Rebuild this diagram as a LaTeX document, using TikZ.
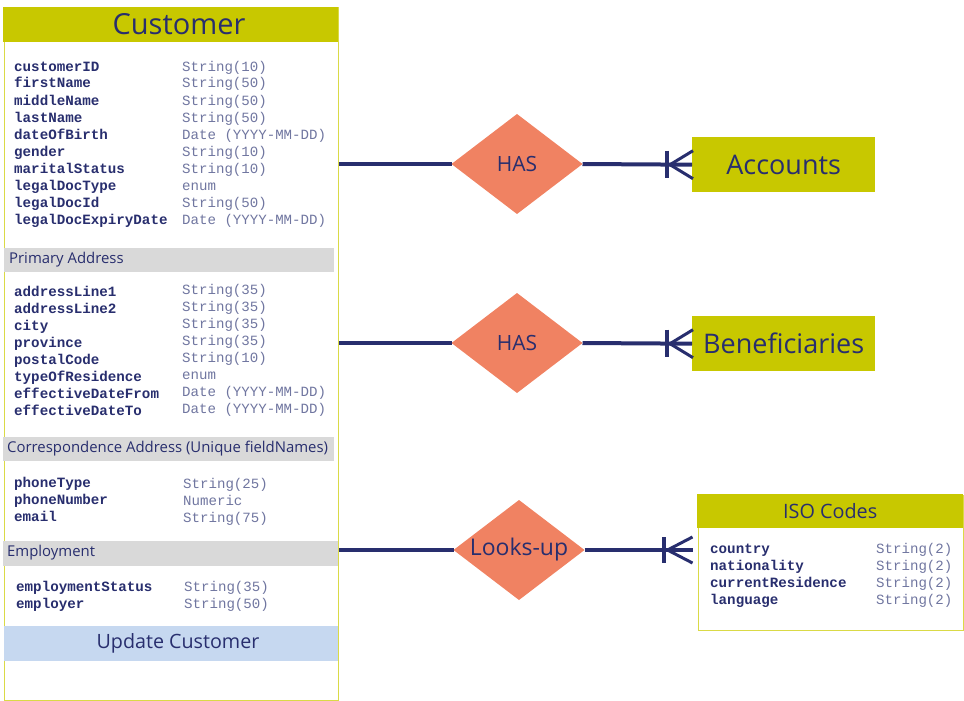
\documentclass[tikz,border=0pt]{standalone}
\usepackage{fontspec}
\setmainfont{Open Sans}
\newfontfamily\monof{Liberation Mono}
\usetikzlibrary{shapes.geometric,calc}
\definecolor{ylw}{RGB}{200,200,0}
\definecolor{ylwb}{RGB}{218,218,70}
\definecolor{navy}{RGB}{40,46,110}
\definecolor{typec}{RGB}{112,118,160}
\definecolor{band}{RGB}{217,217,217}
\definecolor{salmon}{RGB}{240,130,98}
\definecolor{bluey}{RGB}{198,216,240}
\tikzset{
  fname/.style={anchor=base west, inner sep=0, font=\monof\bfseries\fontsize{14.2}{14}\selectfont, text=navy},
  ftype/.style={anchor=base west, inner sep=0, font=\monof\fontsize{14.1}{14}\selectfont, text=typec},
  bandbox/.style={fill=band, anchor=north west, inner sep=0, minimum height=24pt},
  bandtxt/.style={anchor=west, inner sep=0, font=\fontsize{14.9}{16}\selectfont, text=navy},
  rel/.style={diamond, fill=salmon, minimum width=131pt, minimum height=100pt, inner sep=0, outer sep=0},
  reltxt/.style={inner sep=0, text=navy},
  ent/.style={fill=ylw, anchor=north west, inner sep=0, minimum width=183pt, minimum height=55pt, text=navy, font=\fontsize{27}{30}\selectfont},
  conn/.style={draw=navy, line width=4pt},
  crow/.style={draw=navy, line width=3pt},
  crowbar/.style={draw=navy, line width=4pt}
}
\begin{document}
\begin{tikzpicture}[x=1pt,y=-1pt]
\useasboundingbox (0,0) rectangle (964,701);
% Customer table
\node[draw=ylwb, line width=1.5pt, fill=white, anchor=north west, minimum width=334pt, minimum height=692pt, inner sep=0] (cust) at (3.5,7.5) {};
\node[fill=ylw, anchor=north west, minimum width=335pt, minimum height=35pt, inner sep=0] (custT) at (3,7) {};
\node[inner sep=0, font=\fontsize{29}{32}\selectfont, text=navy] (custL) at (179,24) {Customer};
\foreach \n/\t [count=\i] in {customerID/String(10), firstName/String(50), middleName/String(50), lastName/String(50), dateOfBirth/Date (YYYY-MM-DD), gender/String(10), maritalStatus/String(10), legalDocType/enum, legalDocId/String(50), legalDocExpiryDate/Date (YYYY-MM-DD)} {
  \node[fname] (cn\i) at (14,54+17*\i) {\n};
  \node[ftype] (ct\i) at (182,54+17*\i) {\t};
}
\node[bandbox, minimum width=330pt] (pab) at (4,248) {};
\node[bandtxt] (pat) at (9,260) {Primary Address};
\foreach \n/\t [count=\i] in {addressLine1/String(35), addressLine2/String(35), city/String(35), province/String(35), postalCode/String(10), typeOfResidence/enum, effectiveDateFrom/Date (YYYY-MM-DD), effectiveDateTo/Date (YYYY-MM-DD)} {
  \node[fname] (pn\i) at (14,279+17*\i) {\n};
  \node[ftype] (pt\i) at (182,277+17*\i) {\t};
}
\node[bandbox, minimum width=331pt] (cab) at (3,437) {};
\node[bandtxt] (cat) at (7,449) {Correspondence Address (Unique fieldNames)};
\foreach \n/\t [count=\i] in {phoneType/String(25), phoneNumber/Numeric, email/String(75)} {
  \node[fname] (rn\i) at (14,470+17*\i) {\n};
  \node[ftype] (rt\i) at (183,471+17*\i) {\t};
}
\node[bandbox, minimum width=335pt, minimum height=25pt] (emb) at (3,541) {};
\node[bandtxt] (emt) at (7,553) {Employment};
\foreach \n/\t [count=\i] in {employmentStatus/String(35), employer/String(50)} {
  \node[fname] (en\i) at (16,574+17*\i) {\n};
  \node[ftype] (et\i) at (184,574+17*\i) {\t};
}
\node[fill=bluey, anchor=north west, minimum width=334pt, minimum height=35pt, inner sep=0] (upd) at (4,626) {};
\node[inner sep=0, font=\fontsize{19.7}{22}\selectfont, text=navy] (updL) at (178,643.5) {Update Customer};
% Relationships
\node[rel] (has1) at (517,164) {};
\node[reltxt, font=\fontsize{21}{24}\selectfont] (has1L) at (has1.center) {HAS};
\node[rel] (has2) at (517,343) {};
\node[reltxt, font=\fontsize{21}{24}\selectfont] (has2L) at (has2.center) {HAS};
\node[rel] (look) at (519,550) {};
\node[reltxt, font=\fontsize{23}{26}\selectfont] (lookL) at (look.center) {Looks-up};
% Entities
\node[ent] (acc) at (692,137) {Accounts};
\node[ent] (ben) at (692,316) {Beneficiaries};
\node[draw=ylwb, line width=1.5pt, fill=white, anchor=north west, minimum width=265pt, minimum height=135pt, inner sep=0] (iso) at (697.5,494.5) {};
\node[fill=ylw, anchor=north west, minimum width=266pt, minimum height=34pt, inner sep=0, font=\fontsize{19.8}{22}\selectfont, text=navy] (isoT) at (697,494) {ISO Codes};
\foreach \n/\t [count=\i] in {country/String(2), nationality/String(2), currentResidence/String(2), language/String(2)} {
  \node[fname] (in\i) at (710,536+17*\i) {\n};
  \node[ftype] (it\i) at (876,536+17*\i) {\t};
}
% Connectors
\draw[conn] (cust.east |- has1.west) -- (has1.west);
\draw[conn] (has1.east) -- (acc.west);
\draw[conn] (cust.east |- has2.west) -- (has2.west);
\draw[conn] (has2.east) -- (ben.west);
\draw[conn] (cust.east |- look.west) -- (look.west);
\coordinate (isoL) at (iso.west |- look.east);
\draw[conn] (look.east) -- ($(isoL)+(-5,0)$);
% crow's feet
\foreach \e in {acc.west, ben.west} {
  \draw[crowbar] ($(\e)+(-25,-14)$) -- ($(\e)+(-25,13)$);
  \draw[crow] ($(\e)+(1,-14)$) -- ($(\e)+(-22,0)$) -- ($(\e)+(1,14)$);
}
\draw[crowbar] ($(isoL)+(-34,-13)$) -- ($(isoL)+(-34,13)$);
\draw[crow] ($(isoL)+(-5,-13)$) -- ($(isoL)+(-30,0)$) -- ($(isoL)+(-5,13)$);
\end{tikzpicture}
\end{document}
